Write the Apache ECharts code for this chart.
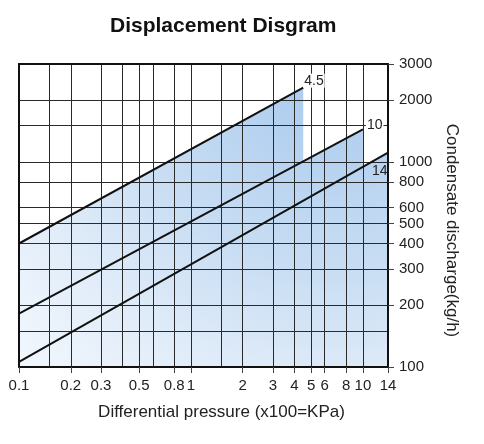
<!DOCTYPE html>
<html>
<head>
<meta charset="utf-8">
<title>Displacement Disgram</title>
<script src="https://cdn.jsdelivr.net/npm/echarts@6/dist/echarts.min.js"></script>
<style>
  html, body { margin: 0; padding: 0; background: #fff; }
  #main { width: 484px; height: 444px; }
</style>
</head>
<body>
<div id="main"></div>
<script>
// 压差 (x100 = KPa) 与排量 (kg/h)，双对数坐标
const xGrid = [0.1, 0.15, 0.2, 0.3, 0.4, 0.5, 0.6, 0.8, 1, 1.5, 2, 3, 4, 5, 6, 8, 10, 14]
const xLabels = [0.1, 0.2, 0.3, 0.5, 0.8, 1, 2, 3, 4, 5, 6, 8, 10, 14]
const yGrid = [100, 150, 200, 300, 400, 500, 600, 800, 1000, 1500, 2000, 3000]
const yLabels = [100, 200, 300, 400, 500, 600, 800, 1000, 2000, 3000]

// 各口径曲线: [压差, 排量]
const line45 = [[0.1, 400], [4.5, 2300]]
const line10 = [[0.1, 182], [10, 1440]]
const line14 = [[0.1, 106], [14, 1110]]
const lineNames = ['4.5', '10', '14']

const font = 'Liberation Sans, Arial, sans-serif'

// 整个区域共用一个渐变（右上深、左下浅），重叠部分颜色一致
const fill = {
  type: 'radial', global: true,
  x: 330, y: 80, r: 420,
  colorStops: [
    { offset: 0, color: '#a9caee' },
    { offset: 0.45, color: '#c8ddf3' },
    { offset: 0.75, color: '#e2edf9' },
    { offset: 1, color: '#f2f7fd' }
  ]
}

const myChart = echarts.init(document.querySelector('#main'))

const areaSeries = [line45, line10, line14].map(d => ({
  type: 'line',
  data: d,
  z: 1,
  symbol: 'none',
  silent: true,
  lineStyle: { width: 0 },
  areaStyle: { color: fill, opacity: 1, origin: 'start' }
}))

const labelCfg = [
  { offset: [0, -7], backgroundColor: '#fff', padding: [0, 1] },
  { offset: [3, -4], backgroundColor: '#fff', padding: [0, 1] },
  { offset: [-16, 19] }
]

const lineSeries = [line45, line10, line14].map((d, i) => ({
  type: 'line',
  name: lineNames[i],
  data: d,
  z: 4,
  symbol: 'none',
  lineStyle: { color: '#111', width: 2 },
  endLabel: Object.assign({
    show: true,
    formatter: lineNames[i],
    color: '#222',
    fontSize: 14,
    fontFamily: font,
    distance: 0
  }, labelCfg[i])
}))

myChart.setOption({
  animation: false,
  title: {
    text: 'Displacement Disgram',
    left: 105,
    top: 11,
    textStyle: { fontSize: 21, fontWeight: 'bold', color: '#111', fontFamily: font }
  },
  grid: { left: 19, right: 96, top: 64, bottom: 77 },
  xAxis: [
    {
      // 刻度与标签
      type: 'log', min: 0.1, max: 14, position: 'bottom', z: 2,
      name: 'Differential pressure (x100=KPa)',
      nameLocation: 'middle', nameGap: 37,
      nameTextStyle: { fontSize: 17, color: '#222', fontFamily: font, padding: [0, 0, 0, 36] },
      axisLine: { lineStyle: { color: '#111', width: 2 } },
      axisTick: { show: true, customValues: xLabels, length: 6, lineStyle: { color: '#444' } },
      axisLabel: { customValues: xLabels, margin: 11, fontSize: 15, color: '#222', fontFamily: font, formatter: v => '' + v },
      splitLine: { show: false }
    },
    {
      // 网格线
      type: 'log', min: 0.1, max: 14, position: 'top', z: 2,
      axisLine: { lineStyle: { color: '#111', width: 2 } },
      axisTick: { show: false, customValues: xGrid },
      axisLabel: { show: false },
      splitLine: { show: true, lineStyle: { color: '#2a2a2a', width: 1 } }
    }
  ],
  yAxis: [
    {
      type: 'log', min: 100, max: 3000, position: 'right', z: 2,
      name: 'Condensate discharge(kg/h)',
      nameLocation: 'middle', nameGap: 49, nameRotate: -90,
      nameTextStyle: { fontSize: 17, color: '#222', fontFamily: font, padding: [0, 0, 0, 30] },
      axisLine: { lineStyle: { color: '#111', width: 2 } },
      axisTick: { show: true, customValues: yLabels, length: 6, lineStyle: { color: '#444' } },
      axisLabel: { customValues: yLabels, margin: 11, fontSize: 15, color: '#222', fontFamily: font, formatter: v => '' + v },
      splitLine: { show: false }
    },
    {
      type: 'log', min: 100, max: 3000, position: 'left', z: 2,
      axisLine: { lineStyle: { color: '#111', width: 2 } },
      axisTick: { show: false, customValues: yGrid },
      axisLabel: { show: false },
      splitLine: { show: true, lineStyle: { color: '#2a2a2a', width: 1 } }
    }
  ],
  series: areaSeries.concat(lineSeries)
})
</script>
</body>
</html>
